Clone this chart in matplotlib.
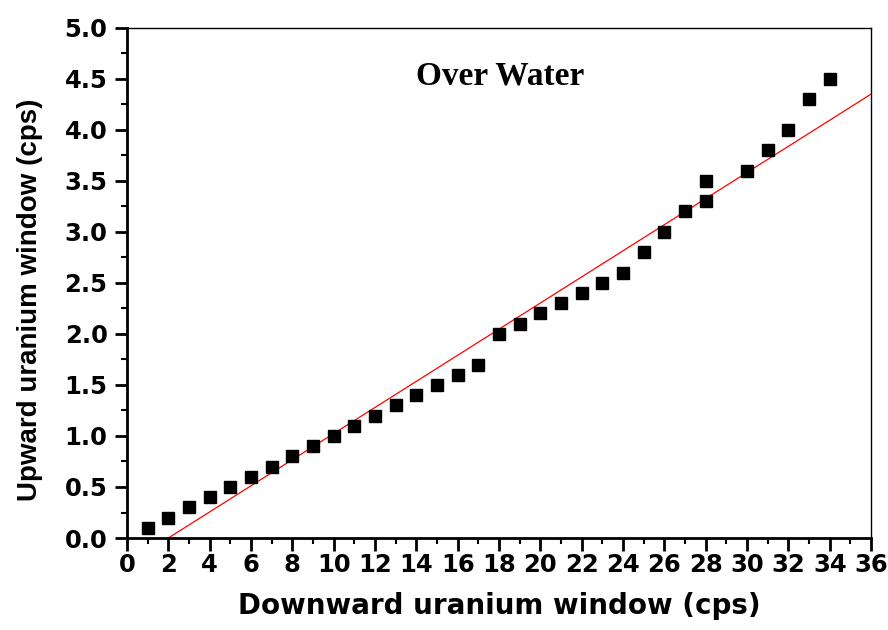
import numpy as np
import matplotlib
matplotlib.use("Agg")
from matplotlib import pyplot as plt
from matplotlib.ticker import MultipleLocator

# data
down_cps = [1, 2, 3, 4, 5, 6, 7, 8, 9, 10, 11, 12, 13, 14, 15, 16, 17, 18, 19, 20,
            21, 22, 23, 24, 25, 26, 27, 28, 28, 30, 31, 32, 33, 34]
up_cps = [0.1, 0.2, 0.3, 0.4, 0.5, 0.6, 0.7, 0.8, 0.9, 1.0, 1.1, 1.2, 1.3, 1.4, 1.5, 1.6, 1.7, 2.0, 2.1, 2.2,
          2.3, 2.4, 2.5, 2.6, 2.8, 3.0, 3.2, 3.3, 3.5, 3.6, 3.8, 4.0, 4.3, 4.5]

# fitted line
fit_x = [2, 36]
fit_y = [0.0, 4.35]

plt.rcParams['font.family'] = ['DejaVu Sans']
plt.rcParams['font.weight'] = 'bold'

fig = plt.figure(figsize=(8.88, 6.3), dpi=100)
ax = fig.add_axes([0.143, 0.146, 0.838, 0.810])

ax.plot(fit_x, fit_y, color='red', lw=0.9, zorder=2)
ax.plot(down_cps, up_cps, 's', color='black', markersize=8, zorder=3)

ax.set_xlim(0, 36)
ax.set_ylim(0, 5)
ax.xaxis.set_major_locator(MultipleLocator(2))
ax.xaxis.set_minor_locator(MultipleLocator(1))
ax.yaxis.set_major_locator(MultipleLocator(0.5))
ax.yaxis.set_minor_locator(MultipleLocator(0.25))
ax.yaxis.set_major_formatter(matplotlib.ticker.FormatStrFormatter('%.1f'))

ax.tick_params(which='major', direction='out', length=9, width=2, labelsize=17.5)
ax.tick_params(axis='x', which='major', pad=2)
ax.tick_params(axis='y', which='major', pad=5)
ax.tick_params(which='minor', direction='out', length=4.5, width=1.5)
ax.tick_params(top=False, right=False, which='both')
for lab in ax.get_xticklabels() + ax.get_yticklabels():
    lab.set_fontweight('bold')

ax.spines['left'].set_linewidth(2)
ax.spines['bottom'].set_linewidth(2)
ax.spines['top'].set_linewidth(1)
ax.spines['right'].set_linewidth(1)

ax.set_xlabel('Downward uranium window (cps)', fontsize=20, fontweight='bold')
ax.set_ylabel('Upward uranium window (cps)', fontsize=20, fontweight='bold',
              family=['Liberation Sans', 'DejaVu Sans'])
ax.xaxis.set_label_coords(0.5, -0.105)
ax.yaxis.set_label_coords(-0.113, 0.467)

ax.text(0.501, 0.905, 'Over Water', transform=ax.transAxes, ha='center', va='center',
        fontsize=24, fontweight='bold', family=['Liberation Serif', 'DejaVu Serif'])

fig.savefig('out.png', dpi=100)
